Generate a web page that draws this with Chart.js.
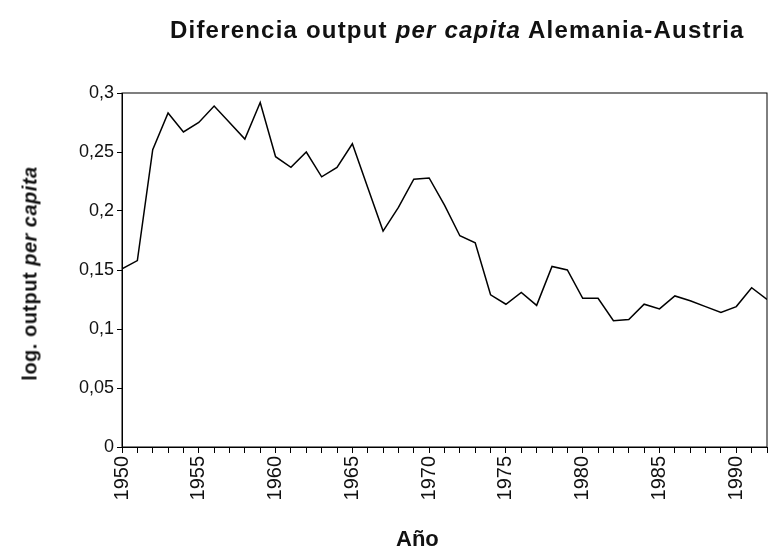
<!DOCTYPE html>
<html><head><meta charset="utf-8">
<script src="https://cdn.jsdelivr.net/npm/chart.js@4/dist/chart.umd.min.js"></script>
<style>
body{margin:0;background:#fff;font-family:"Liberation Sans",Arial,sans-serif;}
#wrap{position:relative;width:779px;height:559px;}
#title{position:absolute;left:170px;top:16px;font-size:24px;letter-spacing:1.2px;font-weight:bold;color:#111;white-space:nowrap;}
#ylab{position:absolute;left:-95px;top:262px;width:250px;text-align:center;font-size:20px;letter-spacing:0.5px;font-weight:bold;transform:rotate(-90deg);white-space:nowrap;color:#111;}
#xlab{position:absolute;left:396px;top:526px;font-size:22px;font-weight:bold;color:#111;}
</style></head>
<body><div id="wrap">
<canvas id="mycanvas" width="779" height="559"></canvas>
<div id="title">Diferencia output <i>per capita</i> Alemania-Austria</div>
<div id="ylab">log. output <i>per capita</i></div>
<div id="xlab">Año</div>
</div>
<script>
var years = [];
for (var y = 1950; y <= 1992; y++) years.push(y);
var diff = [0.151,0.158,0.252,0.283,0.267,0.275,0.289,0.275,0.261,0.292,
	0.246,0.237,0.250,0.229,0.237,0.257,0.220,0.183,0.203,0.227,
	0.228,0.205,0.179,0.173,0.129,0.121,0.131,0.120,0.153,0.150,
	0.126,0.126,0.107,0.108,0.121,0.117,0.128,0.124,0.119,0.114,
	0.119,0.135,0.125];
var yTicks = [0,0.05,0.1,0.15,0.2,0.25,0.3];

var points = [];
for (var i in years) points.push({x: years[i], y: diff[i]});

var frame = {
	id: 'frame',
	afterDraw: function(chart) {
		var a = chart.chartArea, c = chart.ctx;
		c.save();
		c.strokeStyle = '#000';
		c.lineWidth = 1;
		c.strokeRect(a.left, a.top, a.right - a.left, a.bottom - a.top);
		c.restore();
	}
};

new Chart(document.getElementById('mycanvas'), {
	type: 'line',
	data: { datasets: [{ data: points, borderColor: '#000', borderWidth: 1.5, pointRadius: 0, tension: 0, fill: false }] },
	options: {
		responsive: false, animation: false,
		layout: { padding: { top: 93, right: 0 } },
		plugins: { legend: { display: false }, tooltip: { enabled: false } },
		scales: {
			x: {
				type: 'linear', min: 1950, max: 1992,
				afterFit: function(s) { s.height = 112; s.paddingRight = 12; },
				grid: { drawOnChartArea: false, tickLength: 6, color: '#000' },
				border: { color: '#000' },
				ticks: {
					stepSize: 1, autoSkip: false, maxRotation: 90, minRotation: 90,
					color: '#111', font: { size: 20, family: 'Liberation Sans' },
					callback: function(v) { return v % 5 === 0 ? String(v) : ''; }
				}
			},
			y: {
				min: 0, max: 0.3,
				afterFit: function(s) { s.width = 122; },
				afterBuildTicks: function(s) { s.ticks = yTicks.map(function(v){ return {value: v}; }); },
				grid: { drawOnChartArea: false, tickLength: 5, color: '#000' },
				border: { color: '#000' },
				ticks: {
					color: '#111', font: { size: 18, family: 'Liberation Sans' },
					callback: function(v) { return String(v).replace('.', ','); }
				}
			}
		}
	},
	plugins: [frame]
});
</script>
</body></html>
